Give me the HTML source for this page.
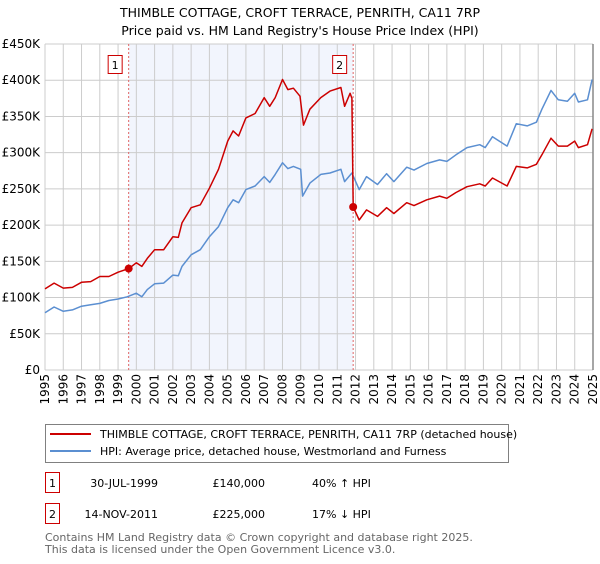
<!DOCTYPE html>
<html><head><meta charset="utf-8"><style>
body{margin:0;background:#fff;font-family:"DejaVu Sans","Liberation Sans",sans-serif;}
svg text{font-family:"DejaVu Sans","Liberation Sans",sans-serif;}
</style></head><body>
<svg id="chart" width="600" height="560" xmlns="http://www.w3.org/2000/svg">
<text x="300" y="17" text-anchor="middle" font-size="12.5">THIMBLE COTTAGE, CROFT TERRACE, PENRITH, CA11 7RP</text>
<text x="300" y="35" text-anchor="middle" font-size="12.5">Price paid vs. HM Land Registry's House Price Index (HPI)</text>
<g id="plot"></g>
<g>
<rect x="45.5" y="424.5" width="463" height="38" fill="#fff" stroke="#808080"/>
<line x1="50" y1="434" x2="91" y2="434" stroke="#cc0000" stroke-width="2"/>
<text x="100" y="438" font-size="11">THIMBLE COTTAGE, CROFT TERRACE, PENRITH, CA11 7RP (detached house)</text>
<line x1="50" y1="451" x2="91" y2="451" stroke="#5b8fd1" stroke-width="2"/>
<text x="100" y="455" font-size="11">HPI: Average price, detached house, Westmorland and Furness</text>
</g>
<g font-size="11">
<rect x="45.5" y="472.5" width="14" height="20" fill="#fff" stroke="#cc0000"/>
<text x="52.5" y="487" text-anchor="middle">1</text>
<text x="158" y="487" text-anchor="end">30-JUL-1999</text>
<text x="265" y="487" text-anchor="end">£140,000</text>
<text x="312" y="487">40% ↑ HPI</text>
<rect x="45.5" y="503.5" width="14" height="20" fill="#fff" stroke="#cc0000"/>
<text x="52.5" y="518" text-anchor="middle">2</text>
<text x="158" y="518" text-anchor="end">14-NOV-2011</text>
<text x="265" y="518" text-anchor="end">£225,000</text>
<text x="312" y="518">17% ↓ HPI</text>
</g>
<text x="45" y="541" font-size="11" fill="#666">Contains HM Land Registry data © Crown copyright and database right 2025.</text>
<text x="45" y="553" font-size="11" fill="#666">This data is licensed under the Open Government Licence v3.0.</text>
</svg>
<script>
const hpiYears=[1995,1995.5,1996,1996.5,1997,1997.5,1998,1998.5,1999,1999.5,2000,2000.3,2000.6,2001,2001.5,2002,2002.3,2002.5,2003,2003.5,2004,2004.5,2005,2005.3,2005.6,2006,2006.5,2007,2007.3,2007.6,2008,2008.3,2008.6,2009,2009.1,2009.5,2010.1,2010.6,2011.2,2011.4,2011.8,2012.2,2012.6,2013.2,2013.7,2014.1,2014.8,2015.2,2015.9,2016.6,2017,2017.5,2018.1,2018.8,2019.1,2019.5,2020.3,2020.8,2021.4,2021.9,2022.2,2022.7,2023.1,2023.6,2024,2024.2,2024.7,2024.95];
const hpiValues=[79,87,81,83,88,90,92,96,98,101,106,101,111,119,120,131,130,143,159,166,184,198,224,235,231,249,254,267,259,270,286,278,281,277,240,258,270,272,277,260,272,249,267,256,271,260,280,276,285,290,288,297,307,311,307,322,309,340,337,342,360,386,373,371,382,370,373,401];
const priceYears=[1995,1995.5,1996,1996.5,1997,1997.5,1998,1998.5,1999,1999.58,2000,2000.3,2000.6,2001,2001.5,2002,2002.3,2002.5,2003,2003.5,2004,2004.5,2005,2005.3,2005.6,2006,2006.5,2007,2007.3,2007.6,2008,2008.3,2008.6,2008.96,2009.15,2009.5,2010.1,2010.6,2011.2,2011.4,2011.7,2011.8,2011.87,2012.2,2012.6,2013.2,2013.7,2014.1,2014.8,2015.2,2015.9,2016.6,2017,2017.5,2018.1,2018.8,2019.1,2019.5,2020.3,2020.8,2021.4,2021.9,2022.2,2022.7,2023.1,2023.6,2024,2024.2,2024.7,2024.95];
const priceValues=[112,120,113,114,121,122,129,129,135,140,148,143,154,166,166,184,183,203,224,228,251,277,316,330,323,348,354,376,364,376,401,387,389,378,338,360,376,385,390,364,382,375,225,207,221,212,224,216,231,227,235,240,237,245,253,257,254,265,254,281,279,284,297,320,309,309,316,307,311,333];
const sales=[{label:"1",year:1999.58,value:140},{label:"2",year:2011.87,value:225}];
const yTicks=[0,50,100,150,200,250,300,350,400,450];
const yTickLabels=["£0","£50K","£100K","£150K","£200K","£250K","£300K","£350K","£400K","£450K"];
const xTicks=[1995,1996,1997,1998,1999,2000,2001,2002,2003,2004,2005,2006,2007,2008,2009,2010,2011,2012,2013,2014,2015,2016,2017,2018,2019,2020,2021,2022,2023,2024,2025];

const NS="http://www.w3.org/2000/svg";
const L=45,R=593,T=44,B=370;
const X=y=>L+(y-1995)/30*(R-L);
const Y=v=>B-v/450*(B-T);
const g=document.getElementById('plot');
function mk(t,a){const e=document.createElementNS(NS,t);for(const k in a)e.setAttribute(k,a[k]);g.appendChild(e);return e;}
let e=mk('rect',{x:X(sales[0].year),y:T,width:X(sales[1].year)-X(sales[0].year),height:B-T,fill:'#f2f5fd'});


yTicks.forEach((v,i)=>{
 let l=mk('line',{x1:L,x2:R,y1:Y(v),y2:Y(v),stroke:'#cccccc','stroke-width':1});
 
 
 let t=mk('text',{x:L-5,y:Y(v)+4,'text-anchor':'end','font-size':12});
 t.textContent=yTickLabels[i];
 
 
});
xTicks.forEach(y=>{
 let l=mk('line',{x1:X(y),x2:X(y),y1:T,y2:B,stroke:'#cccccc','stroke-width':1});
 
 
 let t=mk('text',{x:0,y:0,'text-anchor':'end','font-size':12,transform:`translate(${X(y)+4},${B+4}) rotate(-90)`});
 t.textContent=String(y);
 
 
});
e=mk('line',{x1:R,x2:R,y1:T,y2:B,stroke:'#888','stroke-width':1.5});


sales.forEach(s=>{
 let l=mk('line',{x1:X(s.year),x2:X(s.year),y1:T,y2:B,stroke:'#e06666','stroke-width':1,'stroke-dasharray':'2,2'});
 
 
 let r=mk('rect',{x:X(s.year)-20.5,y:55.5,width:14,height:18,fill:'#fff',stroke:'#cc0000'});
 
 
 let t=mk('text',{x:X(s.year)-13.5,y:69,'text-anchor':'middle','font-size':11});
 t.textContent=s.label;
 
 
});
function line(xs,vs,c,name){
 const p=mk('polyline',{points:xs.map((y,i)=>X(y).toFixed(1)+','+Y(vs[i]).toFixed(1)).join(' '),fill:'none',stroke:c,'stroke-width':1.5,'stroke-linejoin':'round'});
 
 
}
line(hpiYears,hpiValues,'#5b8fd1','hpi-line');
line(priceYears,priceValues,'#cc0000','price-line');
sales.forEach(s=>{
 let c=mk('circle',{cx:X(s.year),cy:Y(s.value),r:4,fill:'#cc0000'});
 
 
});
</script>
</body></html>
